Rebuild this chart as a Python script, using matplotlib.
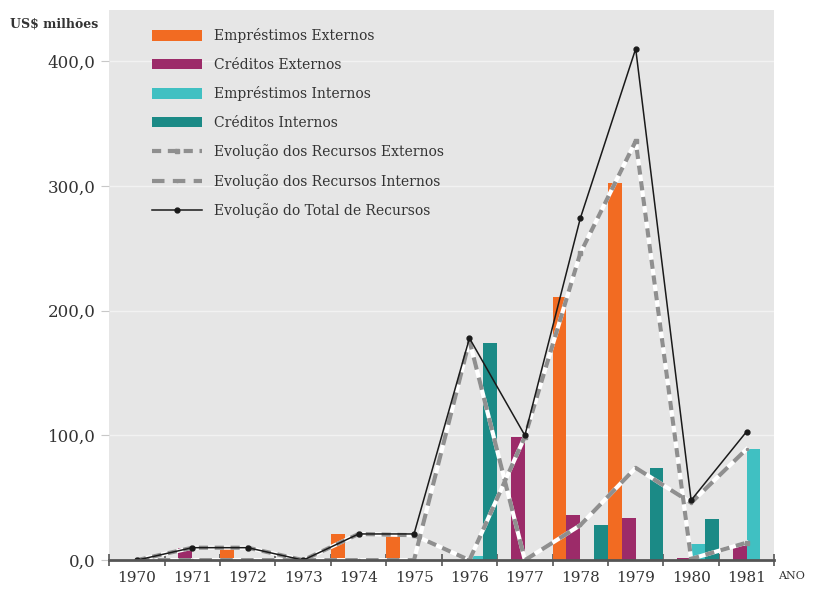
import matplotlib.pyplot as plt
import numpy as np
from matplotlib.ticker import FuncFormatter

anos = ['1970', '1971', '1972', '1973', '1974', '1975',
        '1976', '1977', '1978', '1979', '1980', '1981']

# Valores em US$ milhões
emprestimos_externos = [0, 0, 10, 0, 21, 20, 0, 0, 211, 302, 0, 0]
creditos_externos = [0, 10, 0, 0, 0, 0, 0, 99, 36, 34, 1.5, 11]
emprestimos_internos = [0, 0, 0, 0, 0, 0, 3, 0, 0, 0, 13, 89]
creditos_internos = [0, 0, 0, 0, 0, 0, 174, 0, 28, 74, 33, 0]

recursos_externos = [0, 10, 10, 0, 21, 20, 0, 99, 246, 336, 1, 14]
recursos_internos = [0, 0, 0, 0, 0, 0, 176, 0, 28, 74, 46, 89]
total_recursos = [0, 10, 10, 0, 21, 21, 178, 100, 274, 410, 48, 103]

plt.rcParams['font.family'] = ['DejaVu Serif']

fig = plt.figure(figsize=(8.15, 5.94), dpi=100)
ax = fig.add_axes([0.134, 0.057, 0.816, 0.926])
ax.set_facecolor('#e6e6e6')

x = np.arange(len(anos))
w = 0.25
barras = [
    (emprestimos_externos, '#f26b22', 'Empréstimos Externos'),
    (creditos_externos, '#9c2b69', 'Créditos Externos'),
    (emprestimos_internos, '#40c0c2', 'Empréstimos Internos'),
    (creditos_internos, '#1b8a86', 'Créditos Internos'),
]
handles = []
for k, (vals, cor, nome) in enumerate(barras):
    b = ax.bar(x + (k - 1.5) * w, vals, width=w, color=cor, label=nome, zorder=2)
    handles.append(b)

# linhas tracejadas: base branca com traços cinza por cima
ax.plot(x, recursos_externos, color='white', lw=3, zorder=3)
l_ext, = ax.plot(x, recursos_externos, color='#8f8f8f', lw=3, ls=(0, (2.2, 1.6)),
                 marker='s', ms=3, zorder=4)
ax.plot(x, recursos_internos, color='white', lw=3, zorder=3)
l_int, = ax.plot(x, recursos_internos, color='#8f8f8f', lw=3, ls=(0, (3, 2)),
                 marker='.', ms=3, zorder=4)
l_tot, = ax.plot(x, total_recursos, color='#1a1a1a', lw=1.1, marker='o', ms=3.5, zorder=5)

ax.set_xlim(-0.5, 11.5)
ax.set_ylim(0, 441)

ax.set_xticks(x)
ax.set_xticklabels(anos, fontsize=11, color='#333333')
ax.set_xticks(np.arange(-0.5, 12, 1), minor=True)
ax.tick_params(axis='x', which='major', length=0, pad=8)
ax.tick_params(axis='x', which='minor', direction='inout', length=9, width=1.2,
               color='#555555')

ax.set_yticks([0, 100, 200, 300, 400])
ax.yaxis.set_major_formatter(FuncFormatter(lambda v, p: f'{v:.1f}'.replace('.', ',')))
ax.tick_params(axis='y', length=6, width=0.8, color='#c8c8c8', labelsize=12,
               labelcolor='#333333', pad=4)
ax.grid(axis='y', color='#f2f2f2', lw=1, zorder=1)
ax.set_axisbelow(True)

for s in ['top', 'right', 'left']:
    ax.spines[s].set_visible(False)
ax.spines['bottom'].set_color('#555555')
ax.spines['bottom'].set_linewidth(2)
ax.spines['bottom'].set_zorder(6)

fig.text(0.012, 0.953, 'US$ milhões', fontsize=9, fontweight='bold', color='#333333')
ax.text(1.005, -0.028, 'ANO', transform=ax.transAxes, fontsize=8, color='#333333',
        ha='left', va='center')

labels = [b[2] for b in barras]
handles += [l_ext, l_int, l_tot]
labels += ['Evolução dos Recursos Externos', 'Evolução dos Recursos Internos',
           'Evolução do Total de Recursos']
leg = ax.legend(handles, labels, loc='upper left', bbox_to_anchor=(0.045, 0.99),
                frameon=False, fontsize=10, handlelength=3.6, handleheight=0.8,
                labelspacing=1.05, handletextpad=0.9)
for t in leg.get_texts():
    t.set_color('#333333')

fig.savefig('out.png', dpi=100)
